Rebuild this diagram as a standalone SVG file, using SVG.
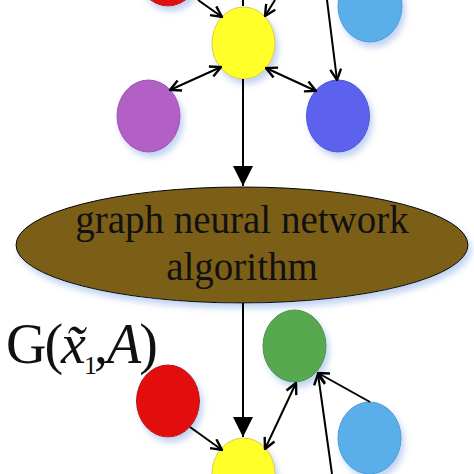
<svg xmlns="http://www.w3.org/2000/svg" width="474" height="474" viewBox="0 0 474 474">
<defs>
<filter id="sh" x="-30%" y="-30%" width="160%" height="160%">
<feDropShadow dx="3" dy="5" stdDeviation="3" flood-color="#8fb0e6" flood-opacity="0.55"/>
</filter>
<marker id="open" viewBox="0 0 12 12" refX="11" refY="6" markerWidth="13" markerHeight="13" markerUnits="userSpaceOnUse" orient="auto-start-reverse">
<path d="M1,1 L11,6 L1,11" fill="none" stroke="#000" stroke-width="2.2"/>
</marker>
<marker id="fill" viewBox="0 0 20 20" refX="20" refY="10" markerWidth="20" markerHeight="20" markerUnits="userSpaceOnUse" orient="auto">
<path d="M0,0 L20,10 L0,20 Z" fill="#000"/>
</marker>
</defs>
<style>
.n{filter:url(#sh);stroke-width:1}
.c line{stroke:#000;stroke-width:2;fill:none}
.o{marker-end:url(#open)}
.d{marker-start:url(#open);marker-end:url(#open)}
.f{marker-end:url(#fill)}
.t{font-family:"Liberation Serif","Times New Roman",serif;fill:#111}
</style>
<rect width="474" height="474" fill="#fff"/>
<g id="red_top"><ellipse class="n" cx="168" cy="-30" rx="31.5" ry="36" fill="#e21010" stroke="#c01010"/></g>
<g id="lightblue_top"><ellipse class="n" cx="370" cy="6" rx="32" ry="36" fill="#5aaeea" stroke="#4c9cd8"/></g>
<g id="yellow_top"><ellipse class="n" cx="243.5" cy="43" rx="31.5" ry="36" fill="#ffff2a" stroke="#e0c84a"/></g>
<g id="purple"><ellipse class="n" cx="148.5" cy="116" rx="31.5" ry="36" fill="#b25fc6" stroke="#a052b4"/></g>
<g id="blue"><ellipse class="n" cx="338" cy="116" rx="31.5" ry="36" fill="#5b62ee" stroke="#4c54d8"/></g>
<g id="gnn">
<ellipse class="n" cx="242" cy="245" rx="226" ry="58" fill="#7b5f17" stroke="#000" stroke-width="1.3"/>
<text class="t" x="242" y="233" font-size="39" text-anchor="middle">graph neural network</text>
<text class="t" x="242" y="280" font-size="39" text-anchor="middle">algorithm</text>
</g>
<g id="green"><ellipse class="n" cx="294.5" cy="346" rx="31.5" ry="36" fill="#58a850" stroke="#4a9644"/></g>
<g id="red"><ellipse class="n" cx="168" cy="401" rx="31.5" ry="36" fill="#e21010" stroke="#c01010"/></g>
<g id="lightblue"><ellipse class="n" cx="369.5" cy="438" rx="31.5" ry="36" fill="#5aaeea" stroke="#4c9cd8"/></g>
<g id="yellow"><ellipse class="n" cx="243.5" cy="474" rx="31.5" ry="36" fill="#ffff2a" stroke="#e0c84a"/></g>
<g id="label">
<text class="t" x="6" y="363" font-size="56" fill="#000" letter-spacing="-2">G(<tspan font-style="italic">x̃</tspan><tspan font-size="26" dx="0" dy="11">1</tspan><tspan dx="-1" dy="-11">,</tspan><tspan dx="1" font-style="italic">A</tspan>)</text>
</g>
<g id="connectors" class="c">
<line class="o" x1="198" y1="0" x2="222" y2="17"/>
<line x1="243" y1="0" x2="243" y2="6"/>
<line class="o" x1="275" y1="0" x2="265" y2="16"/>
<line class="o" x1="327" y1="0" x2="337" y2="80"/>
<line class="d" x1="221" y1="67" x2="170" y2="90"/>
<line class="d" x1="266" y1="68" x2="316" y2="91"/>
<line class="f" x1="243" y1="79" x2="243" y2="186"/>
<line class="f" x1="243" y1="303" x2="243" y2="437"/>
<line class="o" x1="190" y1="427" x2="222" y2="450"/>
<line class="d" x1="265" y1="449" x2="296" y2="383"/>
<line class="o" x1="370" y1="402" x2="318" y2="373"/>
<line class="o" x1="332" y1="474" x2="318" y2="374"/>
</g>
</svg>
